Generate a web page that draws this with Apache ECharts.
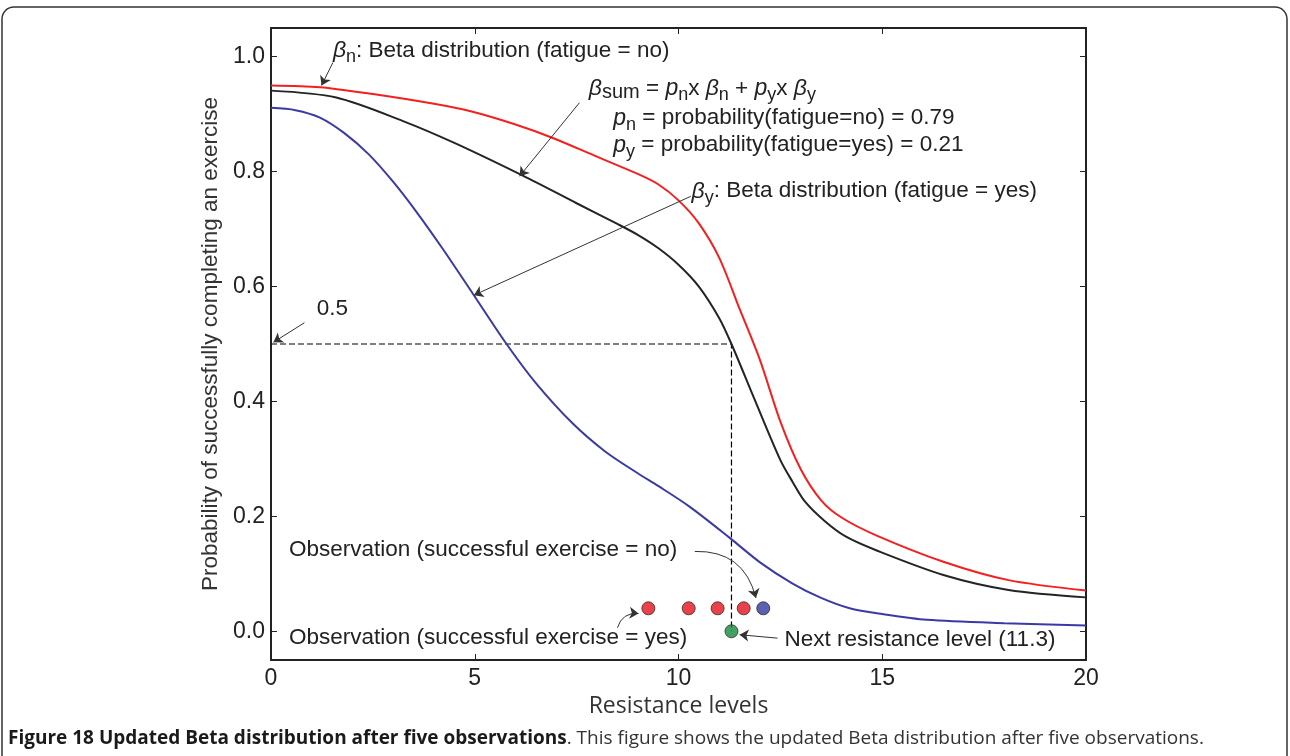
<!DOCTYPE html>
<html lang="en">
<head>
  <meta charset="UTF-8">
  <title>Updated Beta distribution after five observations</title>
  <script src="https://cdn.jsdelivr.net/npm/echarts@6/dist/echarts.min.js"></script>
  <style>
    html, body { margin: 0; padding: 0; background: #fff; }
    #chart { width: 1290px; height: 756px; }
  </style>
</head>
<body>
  <div id="chart"></div>
  <script>
    // curves, [resistance level, probability]
    const betaNo = [
      [0, 0.950], [1.2, 0.947], [2.5, 0.935], [4.0, 0.918], [4.9, 0.905], [6.0, 0.882],
      [6.9, 0.859], [8.0, 0.826], [9.0, 0.796], [9.5, 0.778], [10.0, 0.750], [10.5, 0.710],
      [11.0, 0.650], [11.5, 0.561], [12.0, 0.472], [12.5, 0.365], [13.0, 0.282], [13.5, 0.228],
      [14.0, 0.198], [14.85, 0.167], [16.5, 0.121], [18.1, 0.089], [20, 0.071]
    ];
    const betaSum = [
      [0, 0.941], [1.6, 0.929], [3.24, 0.888], [4.5, 0.850], [6.18, 0.793], [7.5, 0.745],
      [8.5, 0.709], [9.0, 0.690], [9.5, 0.667], [10.0, 0.638], [10.5, 0.600], [11.0, 0.545],
      [11.3, 0.500], [11.9, 0.398], [12.5, 0.298], [12.8, 0.260], [13.1, 0.226], [13.6, 0.191],
      [14.1, 0.165], [14.85, 0.141], [16.5, 0.098], [18.1, 0.072], [20, 0.059]
    ];
    const betaYes = [
      [0, 0.911], [0.6, 0.907], [1.2, 0.894], [1.8, 0.867], [2.4, 0.830], [3.0, 0.782],
      [3.6, 0.727], [4.2, 0.667], [4.95, 0.588], [5.78, 0.500], [6.5, 0.432], [7.4, 0.362],
      [8.2, 0.313], [9.0, 0.275], [9.5, 0.253], [10.27, 0.217], [11.25, 0.163], [12.0, 0.120],
      [12.8, 0.083], [13.5, 0.058], [14.2, 0.040], [15.0, 0.030], [16.1, 0.020], [18.0, 0.014], [20, 0.010]
    ];
    const obsYes = [[9.26, 0.04], [10.25, 0.04], [10.96, 0.04], [11.6, 0.04]];
    const obsNo = [[12.08, 0.04]];
    const nextLevel = [[11.3, 0]];
    const halfGuide = [[0, 0.5], [11.3, 0.5], [11.3, 0]];
    const yTicks = [0, 0.2, 0.4, 0.6, 0.8, 1.0];

    // annotation texts [x, y, text]
    const notes = [
      [1.52, 1.01, '{g|β}{s|n}: Beta distribution (fatigue = no)'],
      [7.80, 0.945, '{g|β}{m|sum} = {g|p}{s|n}x {g|β}{s|n} + {g|p}{s|y}x {g|β}{s|y}'],
      [8.40, 0.893, '{g|p}{s|n} = probability(fatigue=no) = 0.79'],
      [8.40, 0.846, '{g|p}{s|y} = probability(fatigue=yes) = 0.21'],
      [10.32, 0.766, '{g|β}{s|y}: Beta distribution (fatigue = yes)'],
      [1.12, 0.561, '0.5'],
      [0.44, 0.142, 'Observation (successful exercise = no)'],
      [0.44, -0.012, 'Observation (successful exercise = yes)'],
      [12.6, -0.015, 'Next resistance level (11.3)']
    ];
    // arrows [x1, y1, x2, y2, curveness]
    const arrows = [
      [1.52, 0.99, 1.24, 0.95, 0],
      [7.57, 0.920, 6.10, 0.792, 0],
      [10.30, 0.757, 4.98, 0.585, 0],
      [0.82, 0.537, 0.06, 0.503, 0],
      [12.43, -0.012, 11.5, -0.006, 0],
      [10.40, 0.139, 11.9, 0.058, 0.4],
      [8.50, 0.006, 9.02, 0.031, 0.4]
    ];

    const chart = echarts.init(document.getElementById('chart'));
    const font = "'Liberation Sans', Arial, sans-serif";
    const capFont = "'Open Sans', 'Noto Sans', sans-serif";
    const ink = '#222';

    const option = {
      animation: false,
      backgroundColor: '#fff',
      title: {
        left: 8,
        top: 729,
        padding: 0,
        text: '{b|Figure 18 Updated Beta distribution after five observations}{r|. This figure shows the updated Beta distribution after five observations.}',
        textStyle: {
          rich: {
            b: { fontFamily: capFont, fontWeight: 'bold', fontSize: 19, color: '#1a1a1a' },
            r: { fontFamily: capFont, fontWeight: 'normal', fontSize: 19, color: '#333' }
          }
        }
      },
      graphic: [{
        type: 'rect',
        shape: { x: 2, y: 7, width: 1285, height: 800, r: 12 },
        style: { fill: 'none', stroke: '#333', lineWidth: 1.5 },
        silent: true
      }],
      grid: { left: 271, right: 204, top: 28, bottom: 96 },
      xAxis: [{
        type: 'value', min: 0, max: 20, interval: 5, position: 'bottom',
        name: 'Resistance levels', nameLocation: 'middle', nameGap: 33,
        nameTextStyle: { fontFamily: capFont, fontSize: 23, color: '#333' },
        axisLine: { onZero: false, lineStyle: { color: ink, width: 2 } },
        axisTick: { inside: true, length: 6, lineStyle: { color: ink } },
        axisLabel: { fontFamily: font, fontSize: 23, color: ink, margin: 7 },
        splitLine: { show: false }
      }, {
        type: 'value', min: 0, max: 20, interval: 5, position: 'top',
        axisLine: { onZero: false, lineStyle: { color: ink, width: 2 } },
        axisTick: { inside: true, length: 6, lineStyle: { color: ink } },
        axisLabel: { show: false },
        splitLine: { show: false }
      }],
      yAxis: [{
        type: 'value', min: -0.05, max: 1.05, position: 'left',
        name: 'Probability of successfully completing an exercise',
        nameLocation: 'middle', nameGap: 41, nameRotate: 90,
        nameTextStyle: { fontFamily: font, fontSize: 22.5, color: '#333' },
        axisLine: { onZero: false, lineStyle: { color: ink, width: 2 } },
        axisTick: { inside: true, length: 6, lineStyle: { color: ink }, customValues: yTicks },
        axisLabel: { fontFamily: font, fontSize: 23, color: ink, margin: 6, customValues: yTicks,
          formatter: v => v.toFixed(1) },
        splitLine: { show: false }
      }, {
        type: 'value', min: -0.05, max: 1.05, position: 'right',
        axisLine: { onZero: false, lineStyle: { color: ink, width: 2 } },
        axisTick: { inside: true, length: 6, lineStyle: { color: ink }, customValues: yTicks },
        axisLabel: { show: false, customValues: yTicks },
        splitLine: { show: false }
      }],
      series: [
        {
          name: 'guide', type: 'line', data: halfGuide, symbol: 'none',
          lineStyle: { color: '#000', width: 1.2, type: [6, 3] }, z: 1,
          markPoint: {
            symbol: 'circle', symbolSize: 0, silent: true,
            label: {
              show: true, position: 'right', distance: 0, align: 'left', verticalAlign: 'middle',
              fontFamily: font, fontSize: 22.5, color: ink,
              formatter: p => p.name,
              rich: {
                g: { fontStyle: 'italic', fontFamily: font, fontSize: 23, color: ink },
                s: { fontFamily: font, fontSize: 18, color: ink, padding: [13, 0, 0, 0] },
                m: { fontFamily: font, fontSize: 20, color: ink, padding: [9, 0, 0, 0] }
              }
            },
            data: notes.map(n => ({ coord: [n[0], n[1]], name: n[2] }))
          }
        },
        {
          name: 'arrows', type: 'lines', coordinateSystem: 'cartesian2d', silent: true, z: 4,
          symbol: ['none', 'arrow'], symbolSize: 9,
          lineStyle: { color: '#333', width: 1, opacity: 1 },
          data: arrows.map(a => ({
            coords: [[a[0], a[1]], [a[2], a[3]]],
            lineStyle: { curveness: a[4] }
          }))
        },
        { name: 'beta no', type: 'line', data: betaNo, smooth: 0.3, symbol: 'none',
          lineStyle: { color: '#f51f1f', width: 2 }, z: 3 },
        { name: 'beta sum', type: 'line', data: betaSum, smooth: 0.3, symbol: 'none',
          lineStyle: { color: '#242424', width: 2 }, z: 3 },
        { name: 'beta yes', type: 'line', data: betaYes, smooth: 0.3, symbol: 'none',
          lineStyle: { color: '#3a3aa6', width: 2 }, z: 3 },
        { name: 'obs yes', type: 'scatter', data: obsYes, symbolSize: 13, z: 5,
          itemStyle: { color: '#e3141c', borderColor: '#3a2a2a', borderWidth: 1 } },
        { name: 'obs no', type: 'scatter', data: obsNo, symbolSize: 13, z: 5,
          itemStyle: { color: '#2e3b9e', borderColor: '#2a2a3a', borderWidth: 1 } },
        { name: 'next', type: 'scatter', data: nextLevel, symbolSize: 13, z: 5,
          itemStyle: { color: '#178a3c', borderColor: '#2a3a2a', borderWidth: 1 } }
      ]
    };
    chart.setOption(option);
  </script>
</body>
</html>
